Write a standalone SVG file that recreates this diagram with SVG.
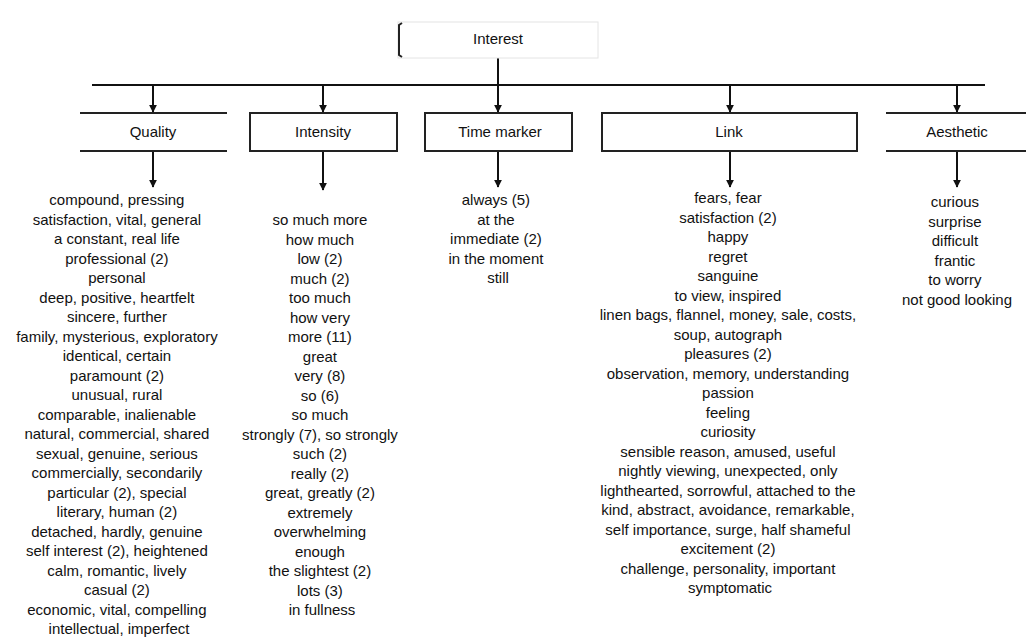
<svg xmlns="http://www.w3.org/2000/svg" width="1026" height="639" viewBox="0 0 1026 639">
<style>
text{font-family:"Liberation Sans",Arial,sans-serif;font-size:15px;fill:#111;text-anchor:middle}
.box{fill:#fff;stroke:#222;stroke-width:2}
.edge{fill:none;stroke:#222;stroke-width:2}
.conn{fill:none;stroke:#111;stroke-width:2;marker-end:url(#arr)}
.plain{fill:none;stroke:#111;stroke-width:2}
</style>
<defs>
<marker id="arr" viewBox="0 0 10 10" refX="9" refY="5" markerWidth="4" markerHeight="4" orient="auto"><path d="M0,0 L10,5 L0,10 z" fill="#111"/></marker>
</defs>
<rect width="1026" height="639" fill="#fff"/>
<g id="connectors">
<path class="plain" d="M498,58 V85"/>
<path class="plain" d="M92,85 H985"/>
<path class="conn" d="M153,85 V112"/>
<path class="conn" d="M323,85 V112"/>
<path class="conn" d="M498,85 V112"/>
<path class="conn" d="M730,85 V112"/>
<path class="conn" d="M957,85 V112"/>
<path class="conn" d="M153,151 V187"/>
<path class="conn" d="M323,151 V190"/>
<path class="conn" d="M498,151 V187"/>
<path class="conn" d="M730,151 V187"/>
<path class="conn" d="M957,151 V187"/>
</g>
<g id="root">
<rect x="398" y="22" width="200" height="36" fill="#fff" stroke="#e4e4e4" stroke-width="1"/>
<path class="edge" d="M402,23 L399,25 V55 L402,57"/>
<text x="498" y="44">Interest</text>
</g>
<g id="quality">
<path class="edge" d="M80,113 H227 M80,151 H227"/>
<text x="153" y="137">Quality</text>
<text>
<tspan x="119" y="205">compound, pressing</tspan>
<tspan x="119" y="224.5">satisfaction, vital, general</tspan>
<tspan x="119" y="244">a constant, real life</tspan>
<tspan x="119" y="263.5">professional (2)</tspan>
<tspan x="119" y="283">personal</tspan>
<tspan x="119" y="302.5">deep, positive, heartfelt</tspan>
<tspan x="119" y="322">sincere, further</tspan>
<tspan x="119" y="341.5">family, mysterious, exploratory</tspan>
<tspan x="119" y="361">identical, certain</tspan>
<tspan x="119" y="380.5">paramount (2)</tspan>
<tspan x="119" y="400">unusual, rural</tspan>
<tspan x="119" y="419.5">comparable, inalienable</tspan>
<tspan x="119" y="439">natural, commercial, shared</tspan>
<tspan x="119" y="458.5">sexual, genuine, serious</tspan>
<tspan x="119" y="478">commercially, secondarily</tspan>
<tspan x="119" y="497.5">particular (2), special</tspan>
<tspan x="119" y="517">literary, human (2)</tspan>
<tspan x="119" y="536.5">detached, hardly, genuine</tspan>
<tspan x="119" y="556">self interest (2), heightened</tspan>
<tspan x="119" y="575.5">calm, romantic, lively</tspan>
<tspan x="119" y="595">casual (2)</tspan>
<tspan x="119" y="614.5">economic, vital, compelling</tspan>
<tspan x="119" y="634">intellectual, imperfect</tspan>
</text>
</g>
<g id="intensity">
<rect class="box" x="250" y="113" width="147" height="38"/>
<text x="323" y="137">Intensity</text>
<text>
<tspan x="322" y="225">so much more</tspan>
<tspan x="322" y="244.5">how much</tspan>
<tspan x="322" y="264">low (2)</tspan>
<tspan x="322" y="283.5">much (2)</tspan>
<tspan x="322" y="303">too much</tspan>
<tspan x="322" y="322.5">how very</tspan>
<tspan x="322" y="342">more (11)</tspan>
<tspan x="322" y="361.5">great</tspan>
<tspan x="322" y="381">very (8)</tspan>
<tspan x="322" y="400.5">so (6)</tspan>
<tspan x="322" y="420">so much</tspan>
<tspan x="322" y="439.5">strongly (7), so strongly</tspan>
<tspan x="322" y="459">such (2)</tspan>
<tspan x="322" y="478.5">really (2)</tspan>
<tspan x="322" y="498">great, greatly (2)</tspan>
<tspan x="322" y="517.5">extremely</tspan>
<tspan x="322" y="537">overwhelming</tspan>
<tspan x="322" y="556.5">enough</tspan>
<tspan x="322" y="576">the slightest (2)</tspan>
<tspan x="322" y="595.5">lots (3)</tspan>
<tspan x="322" y="615">in fullness</tspan>
</text>
</g>
<g id="time-marker">
<rect class="box" x="425" y="113" width="147" height="38"/>
<text x="500" y="137">Time marker</text>
<text>
<tspan x="498" y="205">always (5)</tspan>
<tspan x="498" y="224.5">at the</tspan>
<tspan x="498" y="244">immediate (2)</tspan>
<tspan x="498" y="263.5">in the moment</tspan>
<tspan x="498" y="283">still</tspan>
</text>
</g>
<g id="link">
<rect class="box" x="602" y="113" width="255" height="38"/>
<text x="729" y="137">Link</text>
<text>
<tspan x="730" y="203">fears, fear</tspan>
<tspan x="730" y="222.5">satisfaction (2)</tspan>
<tspan x="730" y="242">happy</tspan>
<tspan x="730" y="261.5">regret</tspan>
<tspan x="730" y="281">sanguine</tspan>
<tspan x="730" y="300.5">to view, inspired</tspan>
<tspan x="730" y="320">linen bags, flannel, money, sale, costs,</tspan>
<tspan x="730" y="339.5">soup, autograph</tspan>
<tspan x="730" y="359">pleasures (2)</tspan>
<tspan x="730" y="378.5">observation, memory, understanding</tspan>
<tspan x="730" y="398">passion</tspan>
<tspan x="730" y="417.5">feeling</tspan>
<tspan x="730" y="437">curiosity</tspan>
<tspan x="730" y="456.5">sensible reason, amused, useful</tspan>
<tspan x="730" y="476">nightly viewing, unexpected, only</tspan>
<tspan x="730" y="495.5">lighthearted, sorrowful, attached to the</tspan>
<tspan x="730" y="515">kind, abstract, avoidance, remarkable,</tspan>
<tspan x="730" y="534.5">self importance, surge, half shameful</tspan>
<tspan x="730" y="554">excitement (2)</tspan>
<tspan x="730" y="573.5">challenge, personality, important</tspan>
<tspan x="730" y="593">symptomatic</tspan>
</text>
</g>
<g id="aesthetic">
<path class="edge" d="M886,113 H1026 M886,151 H1026"/>
<text x="957" y="137">Aesthetic</text>
<text>
<tspan x="957" y="207">curious</tspan>
<tspan x="957" y="226.5">surprise</tspan>
<tspan x="957" y="246">difficult</tspan>
<tspan x="957" y="265.5">frantic</tspan>
<tspan x="957" y="285">to worry</tspan>
<tspan x="957" y="304.5">not good looking</tspan>
</text>
</g>
</svg>
